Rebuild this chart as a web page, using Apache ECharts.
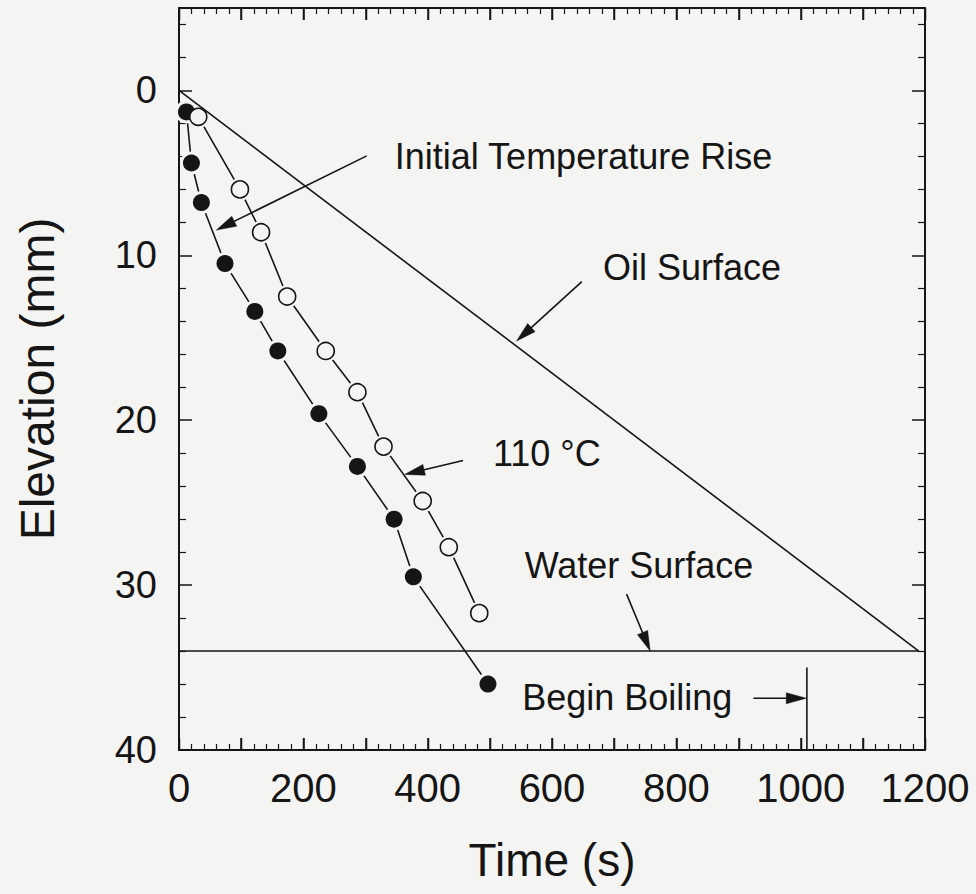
<!DOCTYPE html>
<html><head><meta charset="utf-8">
<script src="https://cdn.jsdelivr.net/npm/echarts@6/dist/echarts.min.js"></script>
<style>html,body{margin:0;padding:0;background:#f4f4f2}#c{width:976px;height:894px}</style>
</head><body><div id="c"></div>
<script>
// ---- data ----
const xLabelValues = [0, 200, 400, 600, 800, 1000, 1200];
const xMajorValues = [0, 100, 200, 300, 400, 500, 600, 700, 800, 900, 1000, 1100, 1200];
const xMinorValues = [20, 40, 60, 80, 120, 140, 160, 180, 220, 240, 260, 280, 320, 340, 360, 380,
  420, 440, 460, 480, 520, 540, 560, 580, 620, 640, 660, 680, 720, 740, 760, 780,
  820, 840, 860, 880, 920, 940, 960, 980, 1020, 1040, 1060, 1080, 1120, 1140, 1160, 1180];
const yLabelValues = [0, 10, 20, 30, 40];
const yMinorValues = [-4, -2, 2, 4, 6, 8, 12, 14, 16, 18, 22, 24, 26, 28, 32, 34, 36, 38];

const timeFilled = [12, 20, 36, 74, 122, 159, 225, 287, 346, 377, 497];
const elevFilled = [1.3, 4.4, 6.8, 10.5, 13.4, 15.8, 19.6, 22.8, 26.0, 29.5, 36.0];
const timeOpen = [31, 98, 132, 174, 236, 287, 329, 392, 434, 483];
const elevOpen = [1.6, 6.0, 8.6, 12.5, 15.8, 18.3, 21.6, 24.9, 27.7, 31.7];

const oilTime = [0, 1190];
const oilElev = [0, 34];
const waterTime = [0, 1190];
const waterElev = [34, 34];
const boilTime = [1010, 1010];
const boilElev = [35, 40];

const noteTexts = ['Initial Temperature Rise', 'Oil Surface', '110 °C', 'Water Surface', 'Begin Boiling'];
const noteX = [347, 682, 505, 556, 552];
const noteY = [4.02, 10.74, 22.03, 28.84, 36.8];

const arrowFromX = [302, 648, 457, 720, 924];
const arrowFromY = [3.97, 11.6, 22.44, 30.55, 36.86];
const arrowToX = [60, 543, 363, 758, 1009];
const arrowToY = [8.47, 15.2, 23.29, 34.0, 36.86];

// ---- chart ----
const BG = '#f4f4f2';
const INK = '#151515';
const FONT = '"Liberation Sans", Arial, Helvetica, sans-serif';
const zip = (a, b) => a.map((v, i) => [v, b[i]]);

const chart = echarts.init(document.getElementById('c'), null, {renderer: 'svg'});

function axisLineStyle(show) {
  return {show: show, onZero: false, lineStyle: {color: INK, width: 2}};
}

function xAxisDef(pos, withLabel) {
  return {
    type: 'value', position: pos, min: 0, max: 1200, interval: 100,
    axisLine: axisLineStyle(true),
    axisTick: {show: true, inside: true, length: 12, lineStyle: {color: INK, width: 1.5}},
    splitLine: {show: false},
    axisLabel: withLabel ? {
      show: true, margin: 18, fontSize: 40, color: INK, fontFamily: FONT,
      formatter: v => (xLabelValues.indexOf(v) >= 0 ? String(v) : '')
    } : {show: false},
    name: withLabel ? 'Time (s)' : '',
    nameLocation: 'middle', nameGap: 87,
    nameTextStyle: {fontSize: 46, color: INK, fontFamily: FONT}
  };
}

function yAxisDef(pos, major, withName) {
  return {
    type: 'value', position: pos, inverse: true, min: -5, max: 40,
    axisLine: axisLineStyle(major),
    axisTick: {show: true, inside: true, length: major ? 13 : 7,
      customValues: major ? yLabelValues : yMinorValues,
      lineStyle: {color: INK, width: major ? 1.5 : 1.2}},
    splitLine: {show: false},
    axisLabel: withName ? {
      show: true, margin: 22, fontSize: 38, color: INK, fontFamily: FONT,
      customValues: yLabelValues, formatter: v => String(v)
    } : {show: false},
    name: withName ? 'Elevation (mm)' : '',
    nameLocation: 'middle', nameGap: 118,
    nameTextStyle: {fontSize: 48, color: INK, fontFamily: FONT}
  };
}

const lineStyle = {color: INK, width: 1.6};

const option = {
  backgroundColor: BG,
  animation: false,
  grid: {left: 179, right: 51, top: 8, bottom: 144, containLabel: false},
  xAxis: [xAxisDef('bottom', true), xAxisDef('top', false)],
  yAxis: [yAxisDef('left', true, true), yAxisDef('left', false, false),
          yAxisDef('right', true, false), yAxisDef('right', false, false)],
  series: [
    {type: 'line', data: zip(timeFilled, elevFilled), showSymbol: false, lineStyle, z: 2},
    {type: 'line', data: zip(timeOpen, elevOpen), showSymbol: false, lineStyle, z: 2},
    {type: 'scatter', data: zip(timeFilled, elevFilled), symbol: 'circle', symbolSize: 23,
      itemStyle: {color: BG, opacity: 1}, z: 3, silent: true},
    {type: 'scatter', data: zip(timeOpen, elevOpen), symbol: 'circle', symbolSize: 23,
      itemStyle: {color: BG, opacity: 1}, z: 3, silent: true},
    {type: 'line', data: zip(oilTime, oilElev), showSymbol: false, lineStyle, z: 4},
    {type: 'line', data: zip(waterTime, waterElev), showSymbol: false, lineStyle, z: 4},
    {type: 'line', data: zip(boilTime, boilElev), showSymbol: false, lineStyle, z: 4},
    {type: 'scatter', data: zip(timeFilled, elevFilled), symbol: 'circle', symbolSize: 17,
      itemStyle: {color: INK, opacity: 1}, z: 5},
    {type: 'scatter', data: zip(timeOpen, elevOpen), symbol: 'circle', symbolSize: 17,
      itemStyle: {color: BG, borderColor: INK, borderWidth: 1.6, opacity: 1}, z: 5}
  ]
};
chart.setOption(option);

function toPx(x, y) {
  return chart.convertToPixel({xAxisIndex: 0, yAxisIndex: 0}, [x, y]);
}

const graphics = [];

// x-axis ticks on bottom and top edges, placed through the x scale
const yBottom = toPx(0, 40)[1];
const yTop = toPx(0, -5)[1];
function addXTicks(values, len, width) {
  values.forEach(v => {
    const px = Math.round(toPx(v, 0)[0]) + 0.5;
    graphics.push({type: 'line', z: 1, silent: true,
      shape: {x1: px, y1: yBottom, x2: px, y2: yBottom - len},
      style: {stroke: INK, lineWidth: width}});
    graphics.push({type: 'line', z: 1, silent: true,
      shape: {x1: px, y1: yTop, x2: px, y2: yTop + len},
      style: {stroke: INK, lineWidth: width}});
  });
}
addXTicks(xMajorValues, 12, 1.5);
addXTicks(xMinorValues, 6, 1.2);

noteTexts.forEach((t, i) => {
  const p = toPx(noteX[i], noteY[i]);
  graphics.push({
    type: 'text', x: p[0], y: p[1], z: 10,
    style: {text: t, fill: INK, fontSize: 36, fontFamily: FONT, align: 'left', verticalAlign: 'middle'}
  });
});
arrowFromX.forEach((_, i) => {
  const s = toPx(arrowFromX[i], arrowFromY[i]);
  const t = toPx(arrowToX[i], arrowToY[i]);
  const dx = t[0] - s[0], dy = t[1] - s[1];
  const len = Math.hypot(dx, dy);
  const ux = dx / len, uy = dy / len;
  const L = 20, W = 5.5;
  const bx = t[0] - ux * L, by = t[1] - uy * L;
  graphics.push({
    type: 'line', z: 10,
    shape: {x1: s[0], y1: s[1], x2: bx + ux * 2, y2: by + uy * 2},
    style: {stroke: INK, lineWidth: 1.6}
  });
  graphics.push({
    type: 'polygon', z: 10,
    shape: {points: [[t[0], t[1]], [bx - uy * W, by + ux * W], [bx + uy * W, by - ux * W]]},
    style: {fill: INK, stroke: INK, lineWidth: 0.5}
  });
});
chart.setOption({graphic: graphics});
</script></body></html>
